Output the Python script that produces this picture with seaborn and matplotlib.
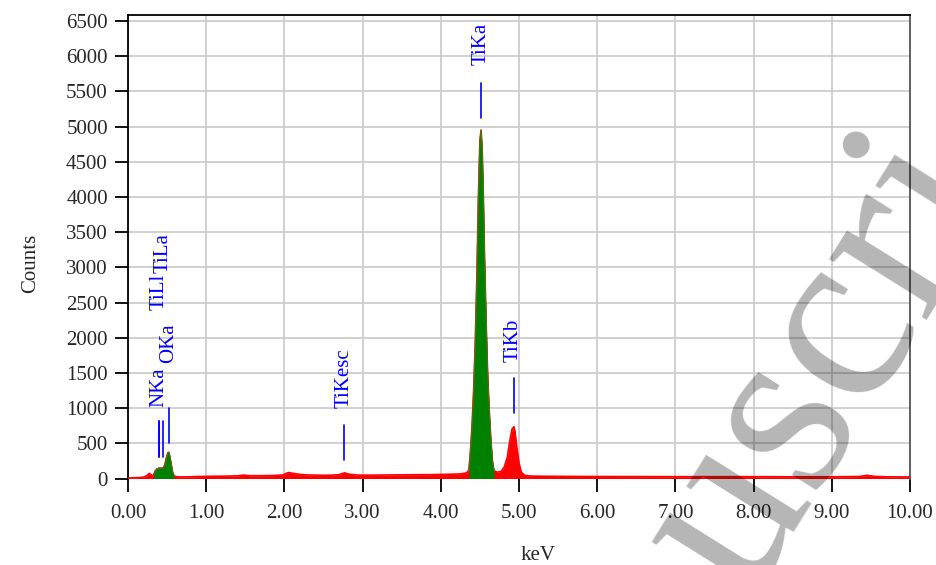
import matplotlib
matplotlib.use("Agg")
import matplotlib.pyplot as plt
import numpy as np
import pandas as pd
import seaborn as sns

# ---- spectrum data ----
energy_kev = [0.00, 0.05, 0.10, 0.15, 0.20, 0.24, 0.27, 0.29, 0.31, 0.33,
              0.35, 0.37, 0.40, 0.43, 0.45, 0.47, 0.49, 0.51, 0.52, 0.53,
              0.55, 0.57, 0.59, 0.62, 0.70, 0.80, 0.90, 1.00, 1.10, 1.20,
              1.30, 1.40, 1.48, 1.55, 1.70, 1.85, 1.98, 2.05, 2.10, 2.20,
              2.30, 2.40, 2.50, 2.60, 2.70, 2.77, 2.83, 2.95, 3.10, 3.30,
              3.50, 3.70, 3.90, 4.10, 4.25, 4.33, 4.36, 4.38, 4.40, 4.42,
              4.44, 4.46, 4.48, 4.50, 4.515, 4.53, 4.545, 4.56, 4.58, 4.60,
              4.62, 4.64, 4.66, 4.68, 4.72, 4.77, 4.81, 4.85, 4.88, 4.91,
              4.935, 4.95, 4.97, 5.00, 5.03, 5.07, 5.15, 5.30, 5.60, 6.00,
              6.50, 7.00, 7.50, 8.00, 8.50, 9.00, 9.35, 9.45, 9.55, 9.70,
              10.00]
counts = [5, 10, 12, 14, 20, 40, 72, 60, 30, 60,
          110, 135, 148, 145, 150, 190, 290, 365, 372, 340,
          220, 90, 35, 25, 22, 24, 28, 30, 32, 33,
          35, 38, 48, 40, 40, 42, 50, 85, 75, 58,
          50, 48, 45, 47, 55, 80, 60, 48, 47, 50,
          52, 54, 55, 60, 65, 80, 120, 400, 750, 1250,
          1900, 2800, 3950, 4800, 4950, 4650, 3950, 3100, 2200, 1450,
          950, 550, 250, 110, 90, 100, 160, 300, 520, 700,
          735, 660, 460, 220, 90, 45, 35, 32, 30, 28,
          27, 26, 25, 26, 24, 24, 28, 45, 30, 24,
          22]

# identified-peak regions (drawn in green)
green_start = [0.32, 4.36]
green_end = [0.59, 4.68]

# peak markers
peak_labels = ["NKa", "TiLl", "TiLa", "OKa", "TiKesc", "TiKa", "TiKb"]
peak_kev = [0.392, 0.395, 0.452, 0.525, 2.765, 4.51, 4.93]
marker_low = [305, 305, 305, 504, 263, 5122, 930]
marker_high = [816, 816, 816, 1002, 760, 5620, 1428]
label_base = [1016, 2394, 2920, 1641, 1002, 5875, 1655]

x_ticks = [0, 1, 2, 3, 4, 5, 6, 7, 8, 9, 10]
x_tick_labels = ["0.00", "1.00", "2.00", "3.00", "4.00", "5.00",
                 "6.00", "7.00", "8.00", "9.00", "10.00"]
y_ticks = [0, 500, 1000, 1500, 2000, 2500, 3000, 3500, 4000, 4500,
           5000, 5500, 6000, 6500]

# ---- style ----
sns.set_style("white")
plt.rcParams["font.family"] = ["Liberation Serif", "DejaVu Serif"]
plt.rcParams["font.size"] = 15

W, H = 937, 565
fig = plt.figure(figsize=(W / 100, H / 100), dpi=100)
ax = fig.add_axes([128 / W, 1 - 478.5 / H, (910 - 128) / W, (478.5 - 15) / H])

df = pd.DataFrame({"keV": energy_kev, "Counts": counts})

# red full spectrum
ax.fill_between(df["keV"], 0, df["Counts"], color="#ff0000", lw=0, zorder=2)
sns.lineplot(data=df, x="keV", y="Counts", color="#ff0000", lw=1.2, ax=ax,
             zorder=3)

# green identified peaks
for g0, g1 in zip(green_start, green_end):
    sub = df[(df["keV"] >= g0) & (df["keV"] <= g1)]
    ax.fill_between(sub["keV"], 0, sub["Counts"], color="#008000", lw=0,
                    zorder=4)
    sns.lineplot(data=sub, x="keV", y="Counts", color="#3a7a10", lw=0.8,
                 ax=ax, zorder=4)

# peak markers and labels
for lab, xk, y0, y1, yb in zip(peak_labels, peak_kev, marker_low,
                               marker_high, label_base):
    ax.plot([xk, xk], [y0, y1], color="#0000ff", lw=1.2, zorder=5)
    ax.text(xk, yb, lab, rotation=90, ha="center", va="bottom",
            color="#0000ff", fontsize=15, zorder=5)

ax.set_xlim(0, 10)
ax.set_ylim(0, 6585)
ax.set_xticks(x_ticks)
ax.set_xticklabels(x_tick_labels)
ax.set_yticks(y_ticks)
ax.grid(True, color="#c8c8c8", lw=1.2, zorder=0)
ax.set_axisbelow(True)

ax.tick_params(axis="both", direction="out", length=9.5, width=1.3,
               color="black", labelsize=15, left=True, bottom=True)
ax.tick_params(axis="x", pad=9)
ax.tick_params(axis="y", pad=5)

for s in ["left", "top"]:
    ax.spines[s].set_color("black")
    ax.spines[s].set_linewidth(1.3)
ax.spines["right"].set_color("#555555")
ax.spines["right"].set_linewidth(1.3)
ax.spines["bottom"].set_visible(False)

ax.set_xlabel("")
ax.set_ylabel("")
fig.text(31 / W, 1 - 263 / H, "Counts", rotation=90, ha="center",
         va="center", fontsize=15)
fig.text(538 / W, 1 - 555 / H, "keV", ha="center", va="center", fontsize=15)

# watermark (partly outside the figure, as in the reference)
fig.text(825 / W, 1 - 365 / H, "uscri", rotation=58, rotation_mode="anchor",
         ha="center", va="center", fontsize=180, color="black", alpha=0.29,
         zorder=10)

fig.savefig("out.png", dpi=100)
